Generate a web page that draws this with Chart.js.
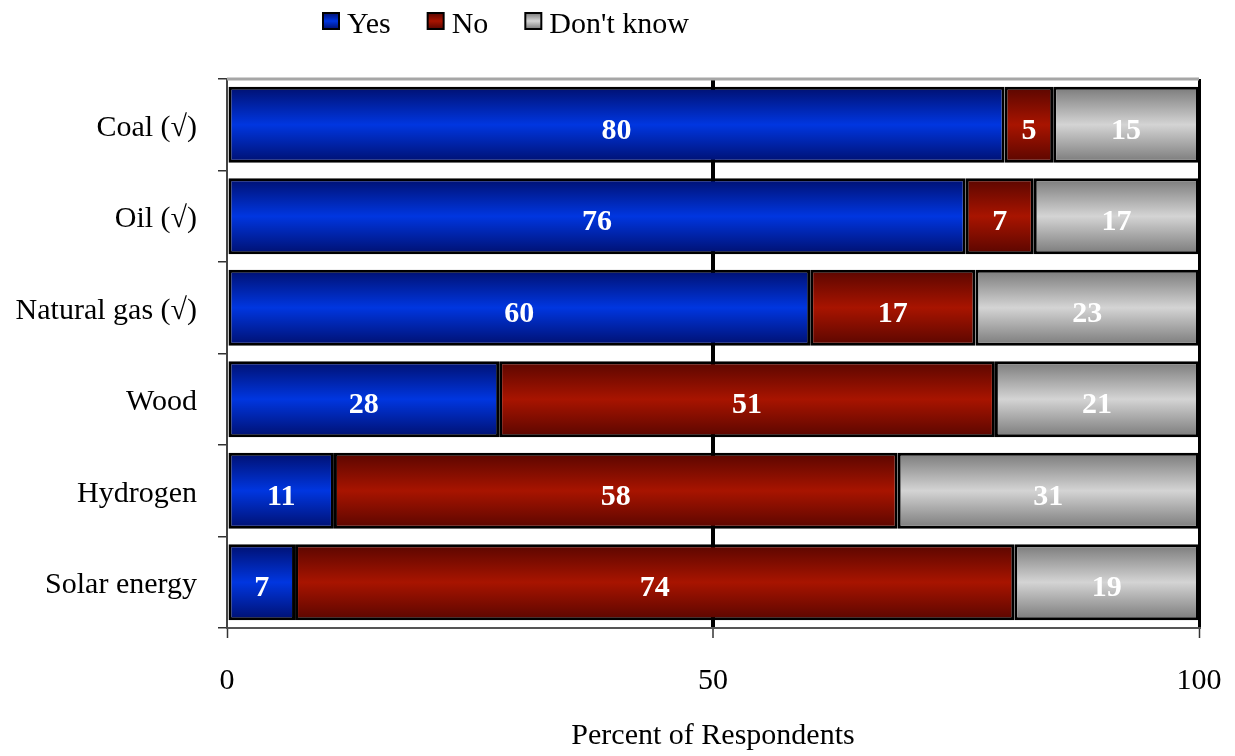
<!DOCTYPE html>
<html>
<head>
<meta charset="utf-8">
<script src="https://cdn.jsdelivr.net/npm/chart.js@4/dist/chart.umd.min.js"></script>
<style>
  html, body { margin: 0; padding: 0; background: #fff; }
  #wrap { width: 1235px; height: 756px; position: relative; }
</style>
</head>
<body>
<div id="wrap"><canvas id="c" width="1235" height="756"></canvas></div>
<script>
const categories = ["Coal (\u221A)", "Oil (\u221A)", "Natural gas (\u221A)", "Wood", "Hydrogen", "Solar energy"];
const yesValues = [80, 76, 60, 28, 11, 7];
const noValues = [5, 7, 17, 51, 58, 74];
const dontKnowValues = [15, 17, 23, 21, 31, 19];
const seriesNames = ["Yes", "No", "Don't know"];
const xTicks = [0, 50, 100];
const xTitle = "Percent of Respondents";

const FONT = "'Liberation Serif', 'DejaVu Serif', serif";
const BAR_PCT = 0.83;

const palettes = [
  ["#001070", "#0036e0"],
  ["#5a0600", "#a81400"],
  ["#7a7a7a", "#d4d4d4"]
];

function barGradient(stops) {
  return function (ctx) {
    const chart = ctx.chart;
    const ys = chart.scales && chart.scales.y;
    if (!ys || ctx.dataIndex === undefined || !isFinite(ys.top)) return stops[1];
    const c = ys.getPixelForValue(ctx.dataIndex);
    const band = (ys.bottom - ys.top) / categories.length;
    const h = band * BAR_PCT / 2;
    const g = chart.ctx.createLinearGradient(0, c - h, 0, c + h);
    g.addColorStop(0, stops[0]);
    g.addColorStop(0.5, stops[1]);
    g.addColorStop(1, stops[0]);
    return g;
  };
}

const valueLabels = {
  id: 'valueLabels',
  afterDatasetsDraw(chart) {
    const ctx = chart.ctx;
    ctx.save();
    ctx.font = "bold 30px " + FONT;
    ctx.fillStyle = "#ffffff";
    ctx.textAlign = "center";
    ctx.textBaseline = "middle";
    chart.data.datasets.forEach((ds, di) => {
      const meta = chart.getDatasetMeta(di);
      meta.data.forEach((el, i) => {
        const x = (el.x + el.base) / 2;
        ctx.fillText(String(ds.data[i]), x, el.y + 6);
      });
    });
    ctx.restore();
  }
};

const frame = {
  id: 'frame',
  beforeDatasetsDraw(chart) {
    const a = chart.chartArea;
    const ctx = chart.ctx;
    ctx.save();
    ctx.strokeStyle = "#a6a6a6";
    ctx.lineWidth = 3;
    ctx.beginPath();
    ctx.moveTo(a.left, a.top);
    ctx.lineTo(a.right, a.top);
    ctx.stroke();
    ctx.restore();
  }
};

const customLegend = {
  id: 'customLegend',
  afterDraw(chart) {
    const ctx = chart.ctx;
    ctx.save();
    ctx.font = "30px " + FONT;
    ctx.textBaseline = "middle";
    ctx.textAlign = "left";
    let x = 323;
    const cy = 21;
    seriesNames.forEach((name, i) => {
      const st = palettes[i];
      const g = ctx.createLinearGradient(0, cy - 8, 0, cy + 8);
      g.addColorStop(0, st[0]); g.addColorStop(0.5, st[1]); g.addColorStop(1, st[0]);
      ctx.fillStyle = g;
      ctx.fillRect(x, cy - 8, 16, 16);
      ctx.strokeStyle = "#000";
      ctx.lineWidth = 2;
      ctx.strokeRect(x, cy - 8, 16, 16);
      ctx.fillStyle = "#000";
      ctx.fillText(name, x + 24, cy + 4);
      x += 24 + ctx.measureText(name).width + 37;
    });
    ctx.restore();
  }
};

const datasets = [yesValues, noValues, dontKnowValues].map((vals, i) => ({
  label: seriesNames[i],
  data: vals,
  backgroundColor: barGradient(palettes[i]),
  borderColor: "#000",
  borderWidth: 3,
  borderSkipped: false,
  barPercentage: BAR_PCT,
  categoryPercentage: 1.0
}));

new Chart(document.getElementById('c'), {
  type: 'bar',
  data: { labels: categories, datasets },
  plugins: [frame, valueLabels, customLegend],
  options: {
    indexAxis: 'y',
    responsive: false,
    animation: false,
    layout: { padding: { top: 79, right: 36, left: 0, bottom: 0 } },
    plugins: {
      legend: { display: false },
      tooltip: { enabled: false }
    },
    scales: {
      x: {
        stacked: true,
        min: 0,
        max: 100,
        afterBuildTicks(scale) { scale.ticks = xTicks.map(v => ({ value: v })); },
        afterFit(scale) { scale.height = 128; scale.paddingRight = 0; scale.paddingLeft = 0; },
        ticks: {
          color: "#000",
          font: { family: FONT, size: 30 },
          padding: 25,
          maxRotation: 0
        },
        grid: {
          drawOnChartArea: true,
          color: (c) => (c.tick && c.tick.value === 0) ? "rgba(0,0,0,0)" : "#000",
          lineWidth: (c) => (c.tick && c.tick.value === 50) ? 4 : 3,
          tickColor: "#333",
          tickWidth: 1.5,
          tickLength: 10
        },
        border: { color: "#555", width: 2 },
        title: {
          display: true,
          text: xTitle,
          color: "#000",
          font: { family: FONT, size: 30 },
          padding: { top: 20, bottom: 2 }
        }
      },
      y: {
        stacked: true,
        afterFit(scale) { scale.width = 227; },
        ticks: {
          color: "#000",
          font: { family: FONT, size: 30 },
          padding: 21,
          labelOffset: 3
        },
        grid: {
          drawOnChartArea: false,
          color: "#333",
          tickLength: 9,
          lineWidth: 1.5
        },
        border: { color: "#444", width: 2 }
      }
    }
  }
});
</script>
</body>
</html>
